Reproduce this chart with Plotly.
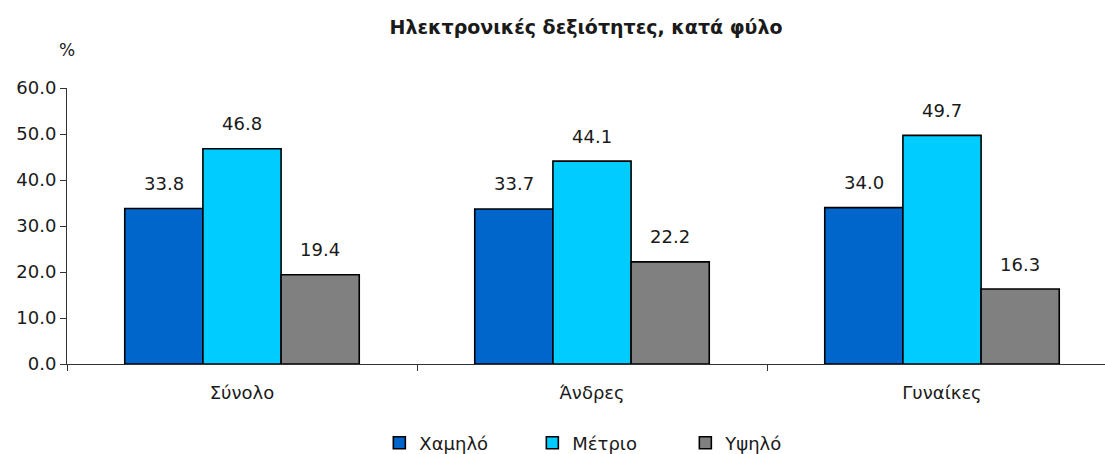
import plotly.graph_objects as go

categories = ["Σύνολο", "Άνδρες", "Γυναίκες"]
series_names = ["Χαμηλό", "Μέτριο", "Υψηλό"]
low = [33.8, 33.7, 34.0]
medium = [46.8, 44.1, 49.7]
high = [19.4, 22.2, 16.3]
colors = ["#0066CC", "#00CCFF", "#808080"]
title = "Ηλεκτρονικές δεξιότητες, κατά φύλο"
y_ticks = [0, 10, 20, 30, 40, 50, 60]

FONT = "DejaVu Sans"
TXT = "#1a1a1a"
series = [low, medium, high]

fig = go.Figure()
for name, vals, col in zip(series_names, series, colors):
    fig.add_trace(go.Bar(
        x=categories, y=vals, name=name,
        marker=dict(color=col, line=dict(color="black", width=1.6)),
    ))

# value labels above bars
bar_px = 78
for i, vals in enumerate(series):
    for cat, v in zip(categories, vals):
        fig.add_annotation(
            x=cat, y=v, xref="x", yref="y", text=f"{v:.1f}",
            showarrow=False, xshift=(i - 1) * bar_px, yshift=25,
            font=dict(family=FONT, size=18, color=TXT),
        )

fig.add_annotation(x=0, y=1, xref="paper", yref="paper", text="%",
                   showarrow=False, xanchor="center", yanchor="bottom",
                   yshift=26, font=dict(family=FONT, size=17, color=TXT))

fig.update_layout(
    width=1105, height=454,
    margin=dict(l=67, r=0, t=88, b=90, autoexpand=False),
    paper_bgcolor="white", plot_bgcolor="white",
    barmode="group", bargap=0.33, bargroupgap=0,
    title=dict(text=f"<b>{title}</b>", x=0.5, xref="paper", y=0.94, yanchor="middle",
               font=dict(family=FONT, size=19, color=TXT)),
    font=dict(family=FONT, size=18, color=TXT),
    legend=dict(orientation="h", x=0.522, xanchor="center",
                yref="container", y=0.065, yanchor="top",
                font=dict(family=FONT, size=18, color=TXT),
                itemwidth=30, entrywidth=108, entrywidthmode="pixels"),
    showlegend=True,
)
fig.update_xaxes(
    range=[-0.5, 2.5 - 12 / 350], tickson="boundaries", ticks="outside", ticklen=6,
    tickcolor="#333", showline=True, linecolor="#333", linewidth=1,
    showgrid=False, tickfont=dict(family=FONT, size=18, color=TXT),
    ticklabelstandoff=12,
)
fig.update_yaxes(
    range=[0, 60], tickvals=y_ticks, tickformat=".1f", ticks="outside", ticklen=6,
    tickcolor="#333", showline=True, linecolor="#333", linewidth=1,
    showgrid=False, zeroline=False, tickfont=dict(family=FONT, size=18, color=TXT),
)
fig.write_html("out.html", config={"displayModeBar": False},
               post_script="document.body.style.margin='0';")
